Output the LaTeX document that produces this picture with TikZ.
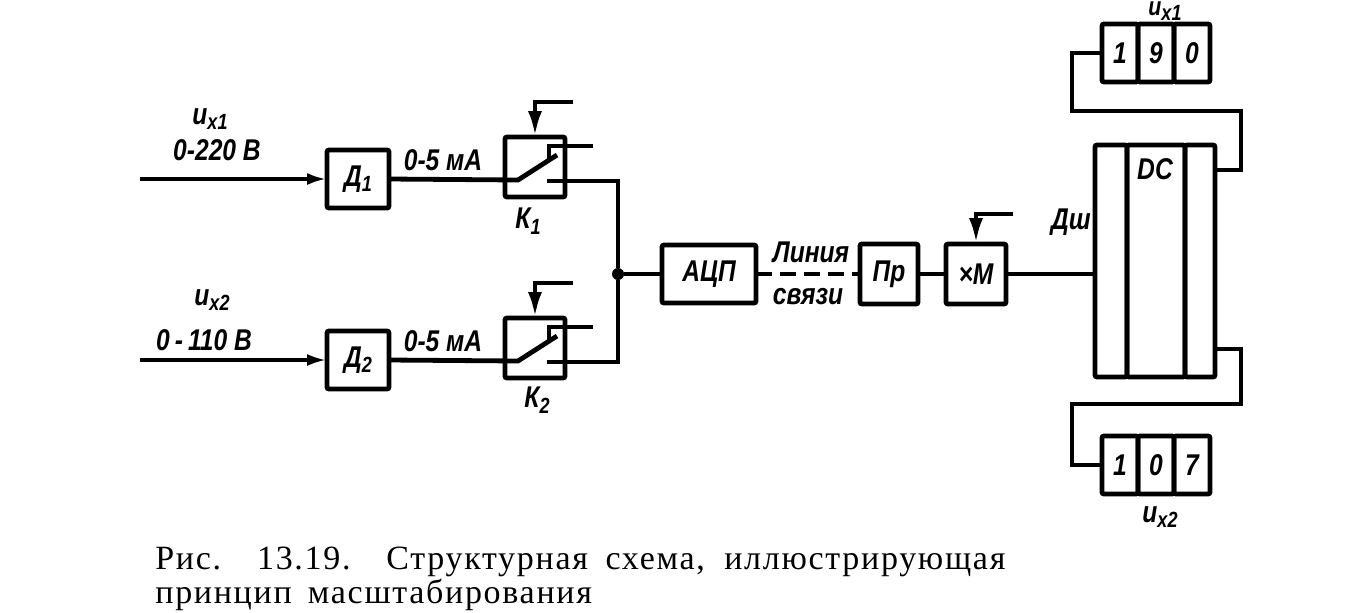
\documentclass[tikz,border=0pt]{standalone}
\usepackage{fontspec}
\setmainfont{Liberation Sans}
\newfontfamily\lblfont[FakeStretch=0.82]{Liberation Sans}
\newfontfamily\capfont[LetterSpace=5]{Liberation Serif}
\usetikzlibrary{arrows.meta,positioning}
\newcommand{\idx}[1]{\raisebox{-0.35ex}{\fontsize{11}{11}\selectfont #1}}

\begin{document}
\begin{tikzpicture}[
    x=0.5pt, y=-0.5pt,
    block/.style={draw, line width=2.4pt, rounded corners=1pt, outer sep=0pt, inner sep=0pt, font=\lblfont\bfseries\itshape\fontsize{15}{15}\selectfont},
    digit/.style={block, minimum width=18pt, minimum height=29pt},
    panel/.style={block, minimum height=116pt},
    lbl/.style={inner sep=0pt, align=center, font=\lblfont\bfseries\itshape\fontsize{15}{17}\selectfont},
    conn/.style={line width=2.4pt},
    arr/.style={-{Latex[length=10pt,width=6pt]}, line width=2.4pt},
    ctlarr/.style={-{Latex[length=13pt,width=7pt]}, line width=2.4pt}
]
\useasboundingbox (0,0) rectangle (1366,612);
% input channels
\foreach \n/\y/\range/\ux/\rx/\ry in {1/0/{0-220 В}/210/217/150, 2/181/{0\,-\,110 В}/212/204/340} {
    \coordinate (in\n) at (140,179+\y);
    \node[block, minimum width=31pt, minimum height=29pt] (d\n) at (358,179+\y) {Д\idx{\n}};
    \node[block, minimum width=30pt, minimum height=30pt] (k\n) at (535,167+\y) {};
    \node[lbl] (ulbl\n) at (\ux,119+\y) {u\idx{x\n}};
    \node[lbl] (range\n) at (\rx,\ry) {\range};
    \node[lbl] (cur\n) at (443,160+\y) {0-5 мА};
    \coordinate (sw\n) at (518,180+\y);
    \coordinate (tip\n) at (557,155+\y);
    \coordinate (hook\n) at (549,160+\y);
    \coordinate (out\n) at (593,146+\y);
    \coordinate (ctl\n) at (573,102+\y);
    \coordinate (con\n) at (547,181+\y);
    \draw[arr] (in\n) -- (d\n.west);
    \draw[conn] (d\n.east) -- (sw\n) -- (tip\n);
    \draw[conn] (hook\n) |- (out\n);
    \draw[ctlarr] (ctl\n) -| (k\n.north);
}
\node[lbl] (k1lbl) at (528,221) {К\idx{1}};
\node[lbl] (k2lbl) at (537,400) {К\idx{2}};
% main chain
\node[block, minimum width=47pt, minimum height=29pt] (adc) at (709,274) {АЦП};
\node[block, minimum width=29pt, minimum height=30pt, right=52pt of adc] (pr) {Пр};
\node[block, minimum width=30pt, minimum height=30pt, right=14pt of pr] (xm) {×М};
\node[circle, fill, inner sep=0pt, minimum size=6pt] (junc) at (618,274) {};
\node[lbl] (line1) at (811,252) {Линия};
\node[lbl] (line2) at (808,297) {связи};
\draw[conn] (con1) -| (junc);
\draw[conn] (con2) -| (junc);
\draw[conn] (junc) -- (adc);
\draw[conn, dash pattern=on 8pt off 4pt] (adc) -- (pr);
\draw[conn] (pr) -- (xm);
\coordinate (ctl3) at (1013,214);
\draw[ctlarr] (ctl3) -| (xm.north);
% decoder
\node[panel, minimum width=16pt] (dc1) at (1111,261) {};
\node[panel, minimum width=29pt, right=0pt of dc1] (dc2) {};
\node[panel, minimum width=15pt, right=0pt of dc2] (dc3) {};
\node[lbl] (dclbl) at (1155,169) {DC};
\node[lbl] (dsh) at (1071,222) {Дш};
\draw[conn] (xm.east) -- (xm.east -| dc1.west);
% indicators
\node[digit] (a1) at (1120,53) {1};
\node[digit, right=0pt of a1] (a2) {9};
\node[digit, right=0pt of a2] (a3) {0};
\node[digit] (b1) at (1120,465) {1};
\node[digit, right=0pt of b1] (b2) {0};
\node[digit, right=0pt of b2] (b3) {7};
\node[lbl] (ulbl3) at (1165,11) {\fontsize{13}{13}\selectfont u\idx{x1}};
\node[lbl] (ulbl4) at (1160,517) {u\idx{x2}};
\coordinate (ta) at (1072,111);
\coordinate (tb) at (1241,170);
\coordinate (ba) at (1072,404);
\coordinate (bb) at (1241,349);
\draw[conn] (a1.west) -| (ta) -| (tb) -- (tb -| dc3.east);
\draw[conn] (bb -| dc3.east) -- (bb) |- (ba) |- (b1.west);
% caption
\node[inner sep=0pt, anchor=north west, align=left, font=\capfont\fontsize{17}{17}\selectfont] (cap) at (155,547) {\makebox[425pt][s]{Рис. 13.19. Структурная схема, иллюстрирующая}\\принцип\hspace{3pt} масштабирования};
\end{tikzpicture}
\end{document}
